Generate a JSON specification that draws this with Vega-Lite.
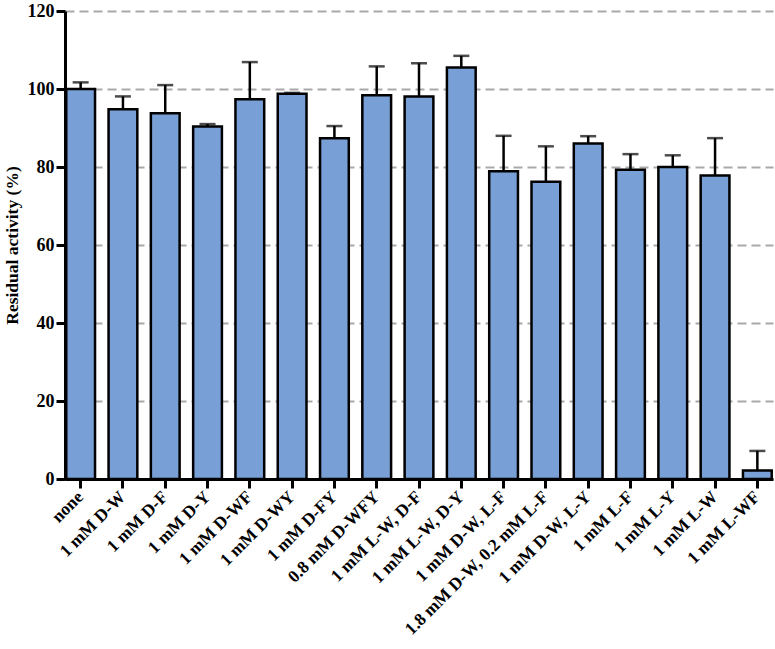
{
  "$schema": "https://vega.github.io/schema/vega-lite/v6.json",
  "autosize": "none",
  "padding": {"left": 65, "top": 11, "right": 2, "bottom": 170},
  "width": 708,
  "height": 468,
  "background": "white",
  "config": {
    "view": {"stroke": null},
    "font": "Liberation Serif"
  },
  "data": {
    "values": [
      {"label": "none", "value": 100.0, "upper": 101.7},
      {"label": "1 mM D-W", "value": 94.8, "upper": 98.1},
      {"label": "1 mM D-F", "value": 93.8, "upper": 101.0},
      {"label": "1 mM D-Y", "value": 90.4, "upper": 91.0},
      {"label": "1 mM D-WF", "value": 97.4, "upper": 106.9},
      {"label": "1 mM D-WY", "value": 98.8, "upper": 99.0},
      {"label": "1 mM D-FY", "value": 87.4, "upper": 90.5},
      {"label": "0.8 mM D-WFY", "value": 98.4, "upper": 105.8},
      {"label": "1 mM L-W, D-F", "value": 98.1, "upper": 106.6},
      {"label": "1 mM L-W, D-Y", "value": 105.5, "upper": 108.5},
      {"label": "1 mM D-W, L-F", "value": 78.9, "upper": 88.0},
      {"label": "1.8 mM D-W, 0.2 mM L-F", "value": 76.2, "upper": 85.3},
      {"label": "1 mM D-W, L-Y", "value": 86.0, "upper": 87.9},
      {"label": "1 mM L-F", "value": 79.3, "upper": 83.3},
      {"label": "1 mM L-Y", "value": 80.0, "upper": 83.0},
      {"label": "1 mM L-W", "value": 77.8, "upper": 87.4},
      {"label": "1 mM L-WF", "value": 2.2, "upper": 7.2}
    ]
  },
  "encoding": {
    "x": {
      "field": "label",
      "type": "nominal",
      "sort": null,
      "scale": {"paddingInner": 0.32, "paddingOuter": 0.03},
      "axis": {
        "title": null,
        "labelAngle": -45,
        "labelAlign": "right",
        "labelBaseline": "middle",
        "labelFont": "Liberation Serif",
        "labelFontWeight": "bold",
        "labelFontSize": 17.5,
        "labelColor": "black",
        "labelPadding": 6,
        "domainColor": "black",
        "domainWidth": 3,
        "tickColor": "black",
        "tickWidth": 3,
        "tickSize": 9,
        "labelOverlap": false,
        "labelLimit": 400
      }
    }
  },
  "layer": [
    {
      "mark": {"type": "bar", "fill": "#789fd6", "stroke": "black", "strokeWidth": 2.5},
      "encoding": {
        "y": {
          "field": "value",
          "type": "quantitative",
          "scale": {"domain": [0, 120], "nice": false},
          "axis": {
            "title": "Residual activity (%)",
            "titleFont": "Liberation Serif",
            "titleFontWeight": "bold",
            "titleFontSize": 17.5,
            "titleColor": "black",
            "titlePadding": 6,
            "values": [0, 20, 40, 60, 80, 100, 120],
            "labelFont": "Liberation Serif",
            "labelFontWeight": "bold",
            "labelFontSize": 18,
            "labelColor": "black",
            "labelPadding": 2,
            "domainColor": "black",
            "domainWidth": 3,
            "tickColor": "black",
            "tickWidth": 3,
            "tickSize": 9,
            "grid": true,
            "gridColor": "#a9a9a9",
            "gridWidth": 2,
            "gridDash": [9, 5]
          }
        }
      }
    },
    {
      "mark": {"type": "rule", "color": "black", "strokeWidth": 2.5},
      "encoding": {
        "y": {"field": "value", "type": "quantitative"},
        "y2": {"field": "upper"}
      }
    },
    {
      "mark": {"type": "tick", "color": "black", "thickness": 2.5, "size": 16},
      "encoding": {
        "y": {"field": "upper", "type": "quantitative"}
      }
    }
  ]
}
